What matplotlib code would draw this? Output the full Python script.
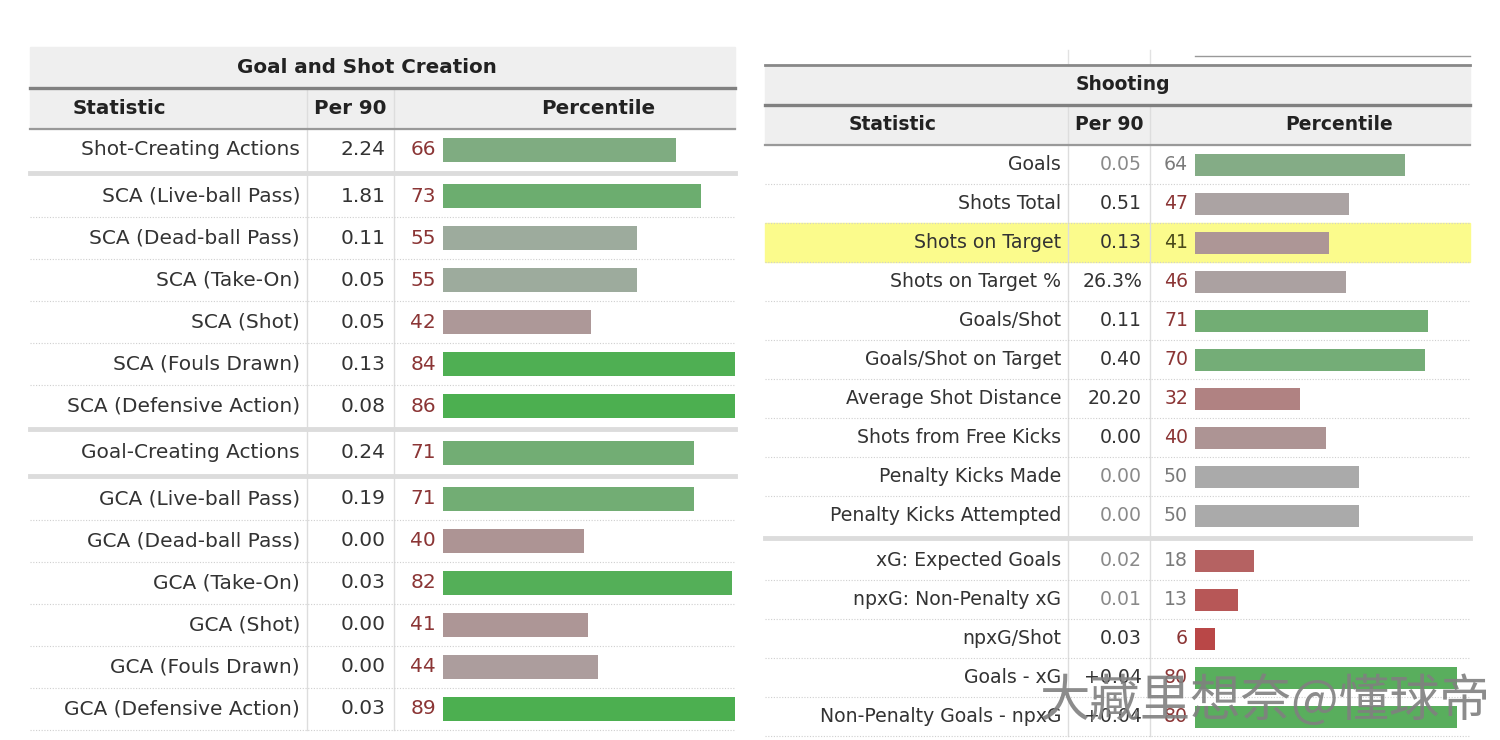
import matplotlib.pyplot as plt
from matplotlib.patches import Rectangle
import numpy as np

# --- data ---
gsc_stats = ["Shot-Creating Actions", "SCA (Live-ball Pass)", "SCA (Dead-ball Pass)",
             "SCA (Take-On)", "SCA (Shot)", "SCA (Fouls Drawn)", "SCA (Defensive Action)",
             "Goal-Creating Actions", "GCA (Live-ball Pass)", "GCA (Dead-ball Pass)",
             "GCA (Take-On)", "GCA (Shot)", "GCA (Fouls Drawn)", "GCA (Defensive Action)"]
gsc_per90 = ["2.24", "1.81", "0.11", "0.05", "0.05", "0.13", "0.08",
             "0.24", "0.19", "0.00", "0.03", "0.00", "0.00", "0.03"]
gsc_pct = [66, 73, 55, 55, 42, 84, 86, 71, 71, 40, 82, 41, 44, 89]
gsc_breaks = [0, 6, 7]

shoot_stats = ["Goals", "Shots Total", "Shots on Target", "Shots on Target %", "Goals/Shot",
               "Goals/Shot on Target", "Average Shot Distance", "Shots from Free Kicks",
               "Penalty Kicks Made", "Penalty Kicks Attempted", "xG: Expected Goals",
               "npxG: Non-Penalty xG", "npxG/Shot", "Goals - xG", "Non-Penalty Goals - npxG"]
shoot_per90 = ["0.05", "0.51", "0.13", "26.3%", "0.11", "0.40", "20.20", "0.00",
               "0.00", "0.00", "0.02", "0.01", "0.03", "+0.04", "+0.04"]
shoot_pct = [64, 47, 41, 46, 71, 70, 32, 40, 50, 50, 18, 13, 6, 80, 80]
shoot_muted = [1, 0, 0, 0, 0, 0, 0, 0, 1, 1, 1, 1, 0, 0, 0]
shoot_breaks = [9]
shoot_highlight = 2

W, H = 1500, 740
FONT = 'DejaVu Sans'

RED = np.array([187, 58, 58]) / 255
GRAY = np.array([170, 170, 170]) / 255
GREEN = np.array([76, 175, 80]) / 255


def pct_color(p):
    if p <= 50:
        t = p / 50
        return tuple(RED * (1 - t) + GRAY * t)
    t = min((p - 50) / 35, 1)
    return tuple(GRAY * (1 - t) + GREEN * t)


def row_layout(top, row_h, sep_h, n, breaks):
    rows, seps = [], []
    y = top
    for i in range(n):
        rows.append((y, y + row_h))
        y += row_h
        if i in breaks:
            seps.append(y + sep_h / 2)
            y += sep_h
    return rows, seps


def draw_table(ax, fig, cfg, stats, per90, pct, breaks, muted=None, highlight=None):
    x0, x1, c1, c2 = cfg['x0'], cfg['x1'], cfg['c1'], cfg['c2']
    fs, hfs = cfg['fs'], cfg['hfs']
    # title band + header
    ax.add_patch(Rectangle((x0, cfg['title_top']), x1 - x0, cfg['header_bot'] - cfg['title_top'],
                           color='#efefef', zorder=0))
    ax.text(cfg['title_x'], (cfg['title_top'] + cfg['title_bot']) / 2, cfg['title'],
            ha='center', va='center', fontsize=hfs, fontweight='bold', color='#222', family=FONT)
    ax.plot([x0, x1], [cfg['title_bot'], cfg['title_bot']], color='#808080', lw=2.4, zorder=3)
    ax.plot([x0, x1], [cfg['header_bot'], cfg['header_bot']], color='#999999', lw=1.6, zorder=3)
    hy = (cfg['title_bot'] + cfg['header_bot']) / 2
    for label, hx in zip(["Statistic", "Per 90", "Percentile"], cfg['head_x']):
        ax.text(hx, hy, label, ha='center', va='center', fontsize=hfs, fontweight='bold',
                color='#222', family=FONT)

    rows, seps = row_layout(cfg['header_bot'], cfg['row_h'], cfg['sep_h'], len(stats), breaks)
    body_bot = rows[-1][1]

    if highlight is not None:
        t, b = rows[highlight]
        ax.add_patch(Rectangle((x0, t), x1 - x0, b - t, color='#fbfb8c', zorder=0))

    # column lines
    for cx in (c1, c2):
        ax.plot([cx, cx], [cfg['title_bot'], body_bot], color='#dddddd', lw=1, zorder=1)

    # separators
    for s in seps:
        ax.plot([x0, x1], [s, s], color='#dcdcdc', lw=3.5, zorder=2)
    for i, (t, b) in enumerate(rows):
        if i not in breaks:
            ax.plot([x0, x1], [b, b], color='#cfcfcf', lw=0.8, ls=(0, (1, 1.5)), zorder=2)

    for i, (t, b) in enumerate(rows):
        yc = (t + b) / 2
        is_m = muted is not None and muted[i]
        val_col = '#8a8a8a' if is_m else '#333333'
        pct_col = '#7a7a7a' if is_m else '#8b3535'
        if i == highlight:
            pct_col = '#4a4a1a'
        ax.text(c1 - 7, yc, stats[i], ha='right', va='center', fontsize=fs, color='#333', family=FONT)
        ax.text(c2 - 8, yc, per90[i], ha='right', va='center', fontsize=fs, color=val_col, family=FONT)
        ax.text(cfg['bar_x'] - 7, yc, str(pct[i]), ha='right', va='center', fontsize=fs,
                color=pct_col, family=FONT)

    # bars on their own axes: x in percentile units
    top, bot = cfg['header_bot'], body_bot
    bax = fig.add_axes([cfg['bar_x'] / W, 1 - bot / H, (x1 - cfg['bar_x']) / W, (bot - top) / H])
    bax.set_xlim(0, (x1 - cfg['bar_x']) / cfg['px_per_pct'])
    bax.set_ylim(bot, top)
    centers = [(t + b) / 2 for t, b in rows]
    bax.barh(centers, pct, height=cfg['bar_h'], color=[pct_color(p) for p in pct], zorder=3)
    bax.axis('off')
    bax.patch.set_alpha(0)


fig = plt.figure(figsize=(15, 7.4), dpi=100)
ax = fig.add_axes([0, 0, 1, 1])
ax.set_xlim(0, W)
ax.set_ylim(H, 0)
ax.axis('off')

left_cfg = dict(x0=30, x1=735, c1=307, c2=394, title="Goal and Shot Creation", title_x=367,
                title_top=47, title_bot=87.5, header_bot=128.5, head_x=[119, 350, 598],
                row_h=42, sep_h=4.5, bar_x=443, px_per_pct=3.53, bar_h=24, fs=14.5, hfs=14.3)
right_cfg = dict(x0=765, x1=1470, c1=1068, c2=1150, title="Shooting", title_x=1123,
                 title_top=65, title_bot=105, header_bot=145, head_x=[893, 1109, 1339],
                 row_h=39, sep_h=6, bar_x=1195, px_per_pct=3.28, bar_h=22, fs=13.6, hfs=13.5)

draw_table(ax, fig, left_cfg, gsc_stats, gsc_per90, gsc_pct, gsc_breaks)
draw_table(ax, fig, right_cfg, shoot_stats, shoot_per90, shoot_pct, shoot_breaks,
           muted=shoot_muted, highlight=shoot_highlight)

# remnants of the table above the Shooting block
ax.plot([765, 1470], [65, 65], color='#888888', lw=2, zorder=3)
ax.plot([1195, 1470], [56, 56], color='#999999', lw=1, zorder=3)
for cx in (1068, 1150):
    ax.plot([cx, cx], [50, 65], color='#e2e2e2', lw=1, zorder=1)

# watermark
wm = fig.text(1040 / W, 1 - 702 / H, "大藏里想奈@懂球帝", ha='left', va='center', fontsize=36.3,
              color='#808080', alpha=0.9, family=['Noto Sans CJK SC', 'DejaVu Sans'])
wm.set_zorder(10)

fig.savefig('out.png', dpi=100)
